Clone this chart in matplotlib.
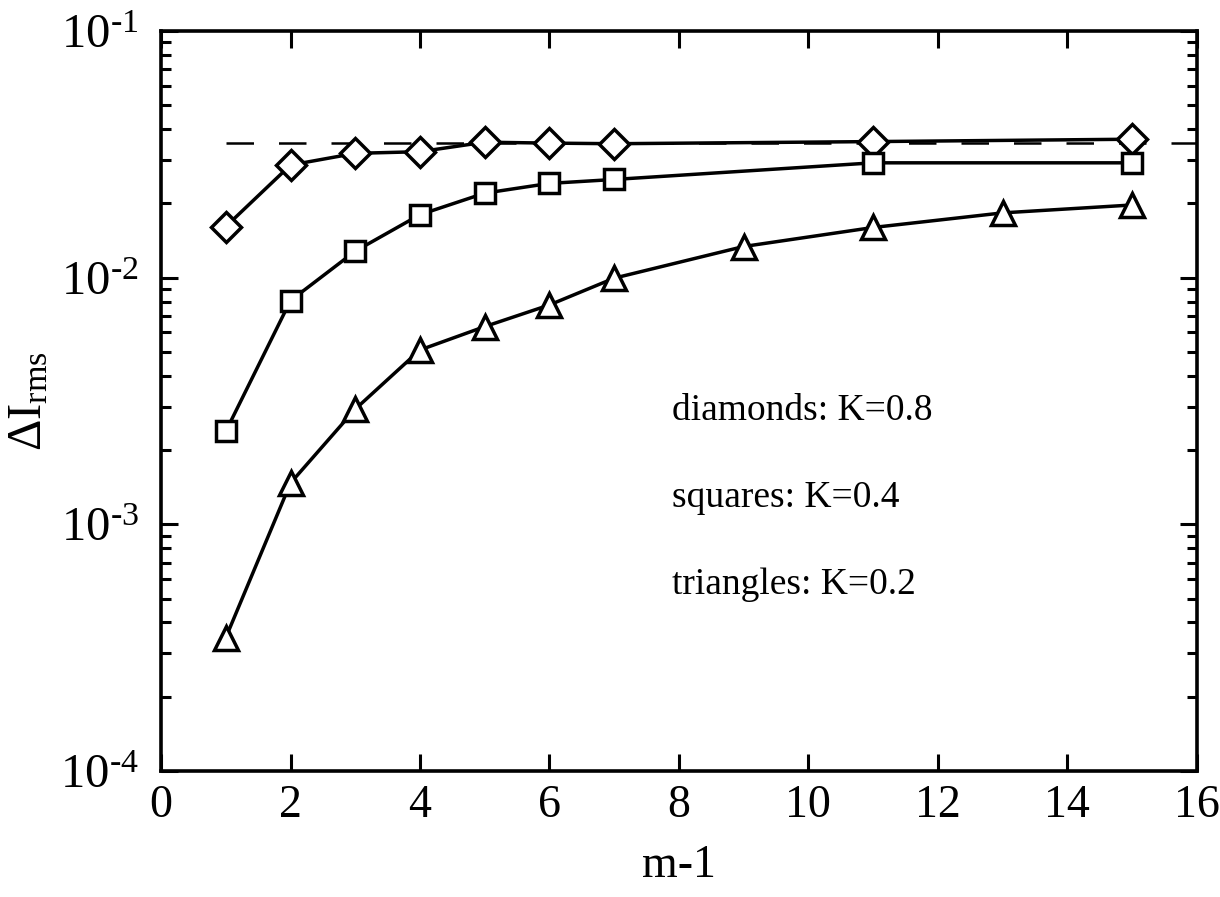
import matplotlib
matplotlib.use("Agg")
import matplotlib.pyplot as plt
from matplotlib.ticker import FixedLocator, LogLocator, NullFormatter, FixedFormatter

plt.rcParams['font.family'] = ['Liberation Serif', 'DejaVu Serif']
plt.rcParams['mathtext.fontset'] = 'custom'
plt.rcParams['mathtext.rm'] = 'Liberation Serif'
plt.rcParams['mathtext.it'] = 'Liberation Serif:italic'

# Data
x_diamonds = [1, 2, 3, 4, 5, 6, 7, 11, 15]
y_diamonds = [0.0161, 0.0286, 0.0319, 0.0324, 0.0354, 0.0351, 0.0349, 0.0356, 0.0364]

x_squares = [1, 2, 3, 4, 5, 6, 7, 11, 15]
y_squares = [0.00238, 0.00807, 0.0128, 0.0180, 0.0220, 0.0241, 0.0250, 0.0292, 0.0292]

x_triangles = [1, 2, 3, 4, 5, 6, 7, 9, 11, 13, 15]
y_triangles = [0.000347, 0.00147, 0.00293, 0.00509, 0.00633, 0.00775, 0.00995,
               0.01337, 0.01597, 0.0183, 0.0197]

dashed_x = [1, 16]
dashed_level = 0.0352

x_ticks = [0, 2, 4, 6, 8, 10, 12, 14, 16]
x_ticklabels = ['0', '2', '4', '6', '8', '10', '12', '14', '16']
y_ticks = [1e-4, 1e-3, 1e-2, 1e-1]
y_ticklabels = [r'$\mathregular{10^{\text{-}4}}$', r'$\mathregular{10^{\text{-}3}}$',
                r'$\mathregular{10^{\text{-}2}}$', r'$\mathregular{10^{\text{-}1}}$']

annotations = ['diamonds: K=0.8', 'squares: K=0.4', 'triangles: K=0.2']

fig = plt.figure(figsize=(12.2, 8.97), dpi=100)
ax = fig.add_axes([0.132, 0.1405, 0.849, 0.825])

lw = 2.5
ax.plot(dashed_x, [dashed_level, dashed_level], color='black', lw=1.8,
        dashes=(11, 10))
ax.plot(x_diamonds, y_diamonds, color='black', lw=lw, marker='D', ms=15.5,
        mfc='white', mec='black', mew=2.5)
ax.plot(x_squares, y_squares, color='black', lw=lw, marker='s', ms=15,
        mfc='white', mec='black', mew=2.5)
ax.plot(x_triangles, y_triangles, color='black', lw=lw, marker='^', ms=17,
        mfc='white', mec='black', mew=2.5)

ax.set_yscale('log')
ax.set_xlim(0, 16)
ax.set_ylim(1e-4, 1e-1)

ax.xaxis.set_major_locator(FixedLocator(x_ticks))
ax.xaxis.set_major_formatter(FixedFormatter(x_ticklabels))
ax.yaxis.set_major_locator(FixedLocator(y_ticks))
ax.yaxis.set_major_formatter(FixedFormatter(y_ticklabels))
ax.yaxis.set_minor_locator(LogLocator(base=10, subs=range(2, 10)))
ax.yaxis.set_minor_formatter(NullFormatter())

ax.tick_params(axis='both', which='major', direction='in', length=12, width=2.2,
               top=True, right=True, pad=12)
ax.tick_params(axis='y', which='minor', direction='in', length=7, width=2.2,
               left=True, right=True)
ax.tick_params(axis='x', labelsize=33, pad=10)
ax.tick_params(axis='y', labelsize=35, pad=16)
for s in ax.spines.values():
    s.set_linewidth(2.6)

ax.set_xlabel('m-1', fontsize=33, labelpad=12)
ax.set_ylabel(r'$\mathregular{\Delta I_{rms}}$', fontsize=35, labelpad=6)

for i, t in enumerate(annotations):
    ax.text(672 / 1220, 1 - (411 + i * 87) / 897, t, transform=fig.transFigure,
            fontsize=27, ha='left', va='center')

fig.savefig('out.png', dpi=100)
